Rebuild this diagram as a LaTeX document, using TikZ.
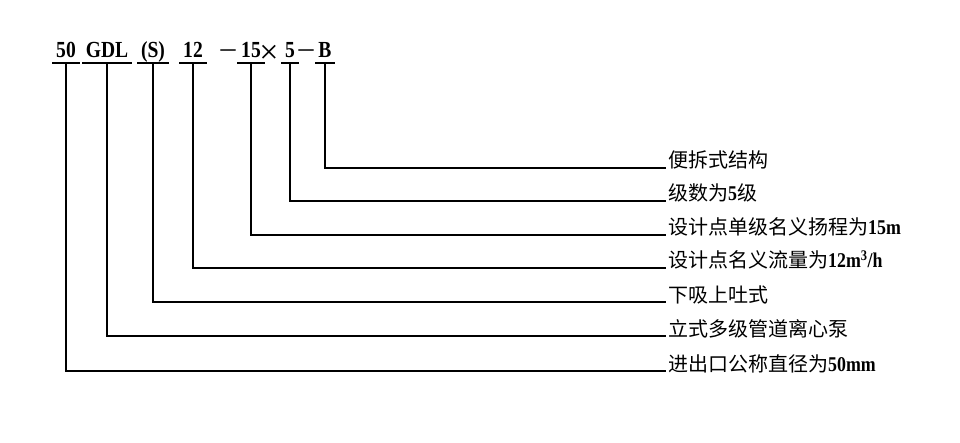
\documentclass[tikz,border=0pt]{standalone}
\usepackage{fontspec}
\newfontfamily\cjk{Noto Sans CJK SC}
\newfontfamily\codefont[FakeStretch=0.85]{Liberation Serif Bold}
\newfontfamily\symfont{Liberation Serif}
\tikzset{
  codepart/.style = {inner sep=0pt, anchor=base,
    font=\codefont\fontsize{23}{23}\selectfont},% model code
  codesym/.style = {codepart, font=\symfont\fontsize{30}{30}\selectfont},% dash, times
  meaning/.style = {inner sep=0pt, anchor=base west,
    font=\cjk\fontsize{20}{20}\selectfont},% explanation
  leader/.style = {line width=1.3pt, line cap=rect}
}
\newcommand{\num}[1]{{\codefont\fontsize{21}{21}\selectfont #1}}

\begin{document}
\begin{tikzpicture}[x=1pt, y=-1pt]
\useasboundingbox (0,0) rectangle (960,443);
% model code
\node [codepart] (c50)  at (66,58)  {50};
\node [codepart] (cGDL) at (107,58) {GDL};
\node [codepart] (cS)   at (153,58) {(S)};
\node [codepart] (c12)  at (193,58) {12};
\node [codesym]  (d1)   at (228,58) {–};
\node [codepart] (c15)  at (251,58) {15};
\node [codesym, font=\symfont\fontsize{34}{34}\selectfont] (x1) at (269,64) {×};
\node [codepart] (c5)   at (290,58) {5};
\node [codesym]  (d2)   at (306,58) {–};
\node [codepart] (cB)   at (325,58) {B};
\foreach \p in {c50,cGDL,cS,c12,c15,c5,cB}
  \draw [leader] ([shift={(-3pt,-5pt)}]\p.base west)
    -- ([shift={(3pt,-5pt)}]\p.base east);
% explanations
\node [meaning] (mB)   at (668,168) {便拆式结构};
\node [meaning] (m5)   at (668,201) {级数为\num{5}级};
\node [meaning] (m15)  at (668,235) {设计点单级名义扬程为\num{15m}};
\node [meaning] (m12)  at (668,268) {设计点名义流量为\num{12m\textsuperscript{3}/h}};
\node [meaning] (mS)   at (668,302) {下吸上吐式};
\node [meaning] (mGDL) at (668,336) {立式多级管道离心泵};
\node [meaning] (m50)  at (668,371) {进出口公称直径为\num{50mm}};
\foreach \p in {B,5,15,12,S,GDL,50}
  \draw [leader] ([yshift=-5pt]c\p.base) |- ([xshift=-3pt]m\p.base west);
\end{tikzpicture}
\end{document}
